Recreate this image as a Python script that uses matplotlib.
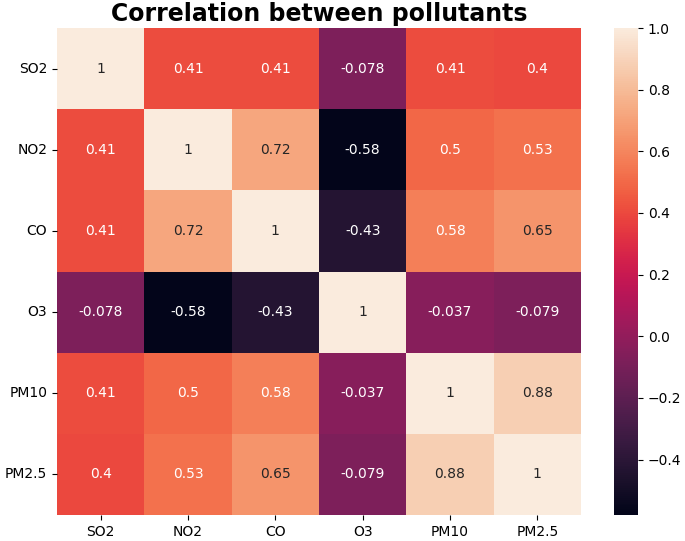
import numpy as np
import matplotlib
matplotlib.use("Agg")
import matplotlib.pyplot as plt
import seaborn as sns

labels = ["SO2", "NO2", "CO", "O3", "PM10", "PM2.5"]
corr = [
    [1, 0.41, 0.41, -0.078, 0.41, 0.4],
    [0.41, 1, 0.72, -0.58, 0.5, 0.53],
    [0.41, 0.72, 1, -0.43, 0.58, 0.65],
    [-0.078, -0.58, -0.43, 1, -0.037, -0.079],
    [0.41, 0.5, 0.58, -0.037, 1, 0.88],
    [0.4, 0.53, 0.65, -0.079, 0.88, 1],
]

fig = plt.figure(figsize=(6.85, 5.41), dpi=100)
ax = fig.add_axes([57 / 685, 26 / 541, 524 / 685, 487 / 541])
cax = fig.add_axes([614 / 685, 26 / 541, 24 / 685, 487 / 541])
sns.heatmap(np.array(corr), annot=True, xticklabels=labels, yticklabels=labels,
            ax=ax, cbar_ax=cax, annot_kws={"fontsize": 10})
ax.set_title("Correlation between pollutants", fontsize=17, fontweight="bold", pad=5)
ax.tick_params(labelsize=10)
plt.setp(ax.get_yticklabels(), rotation=0)
cax.tick_params(labelsize=10)
fig.savefig("out.png", dpi=100)
